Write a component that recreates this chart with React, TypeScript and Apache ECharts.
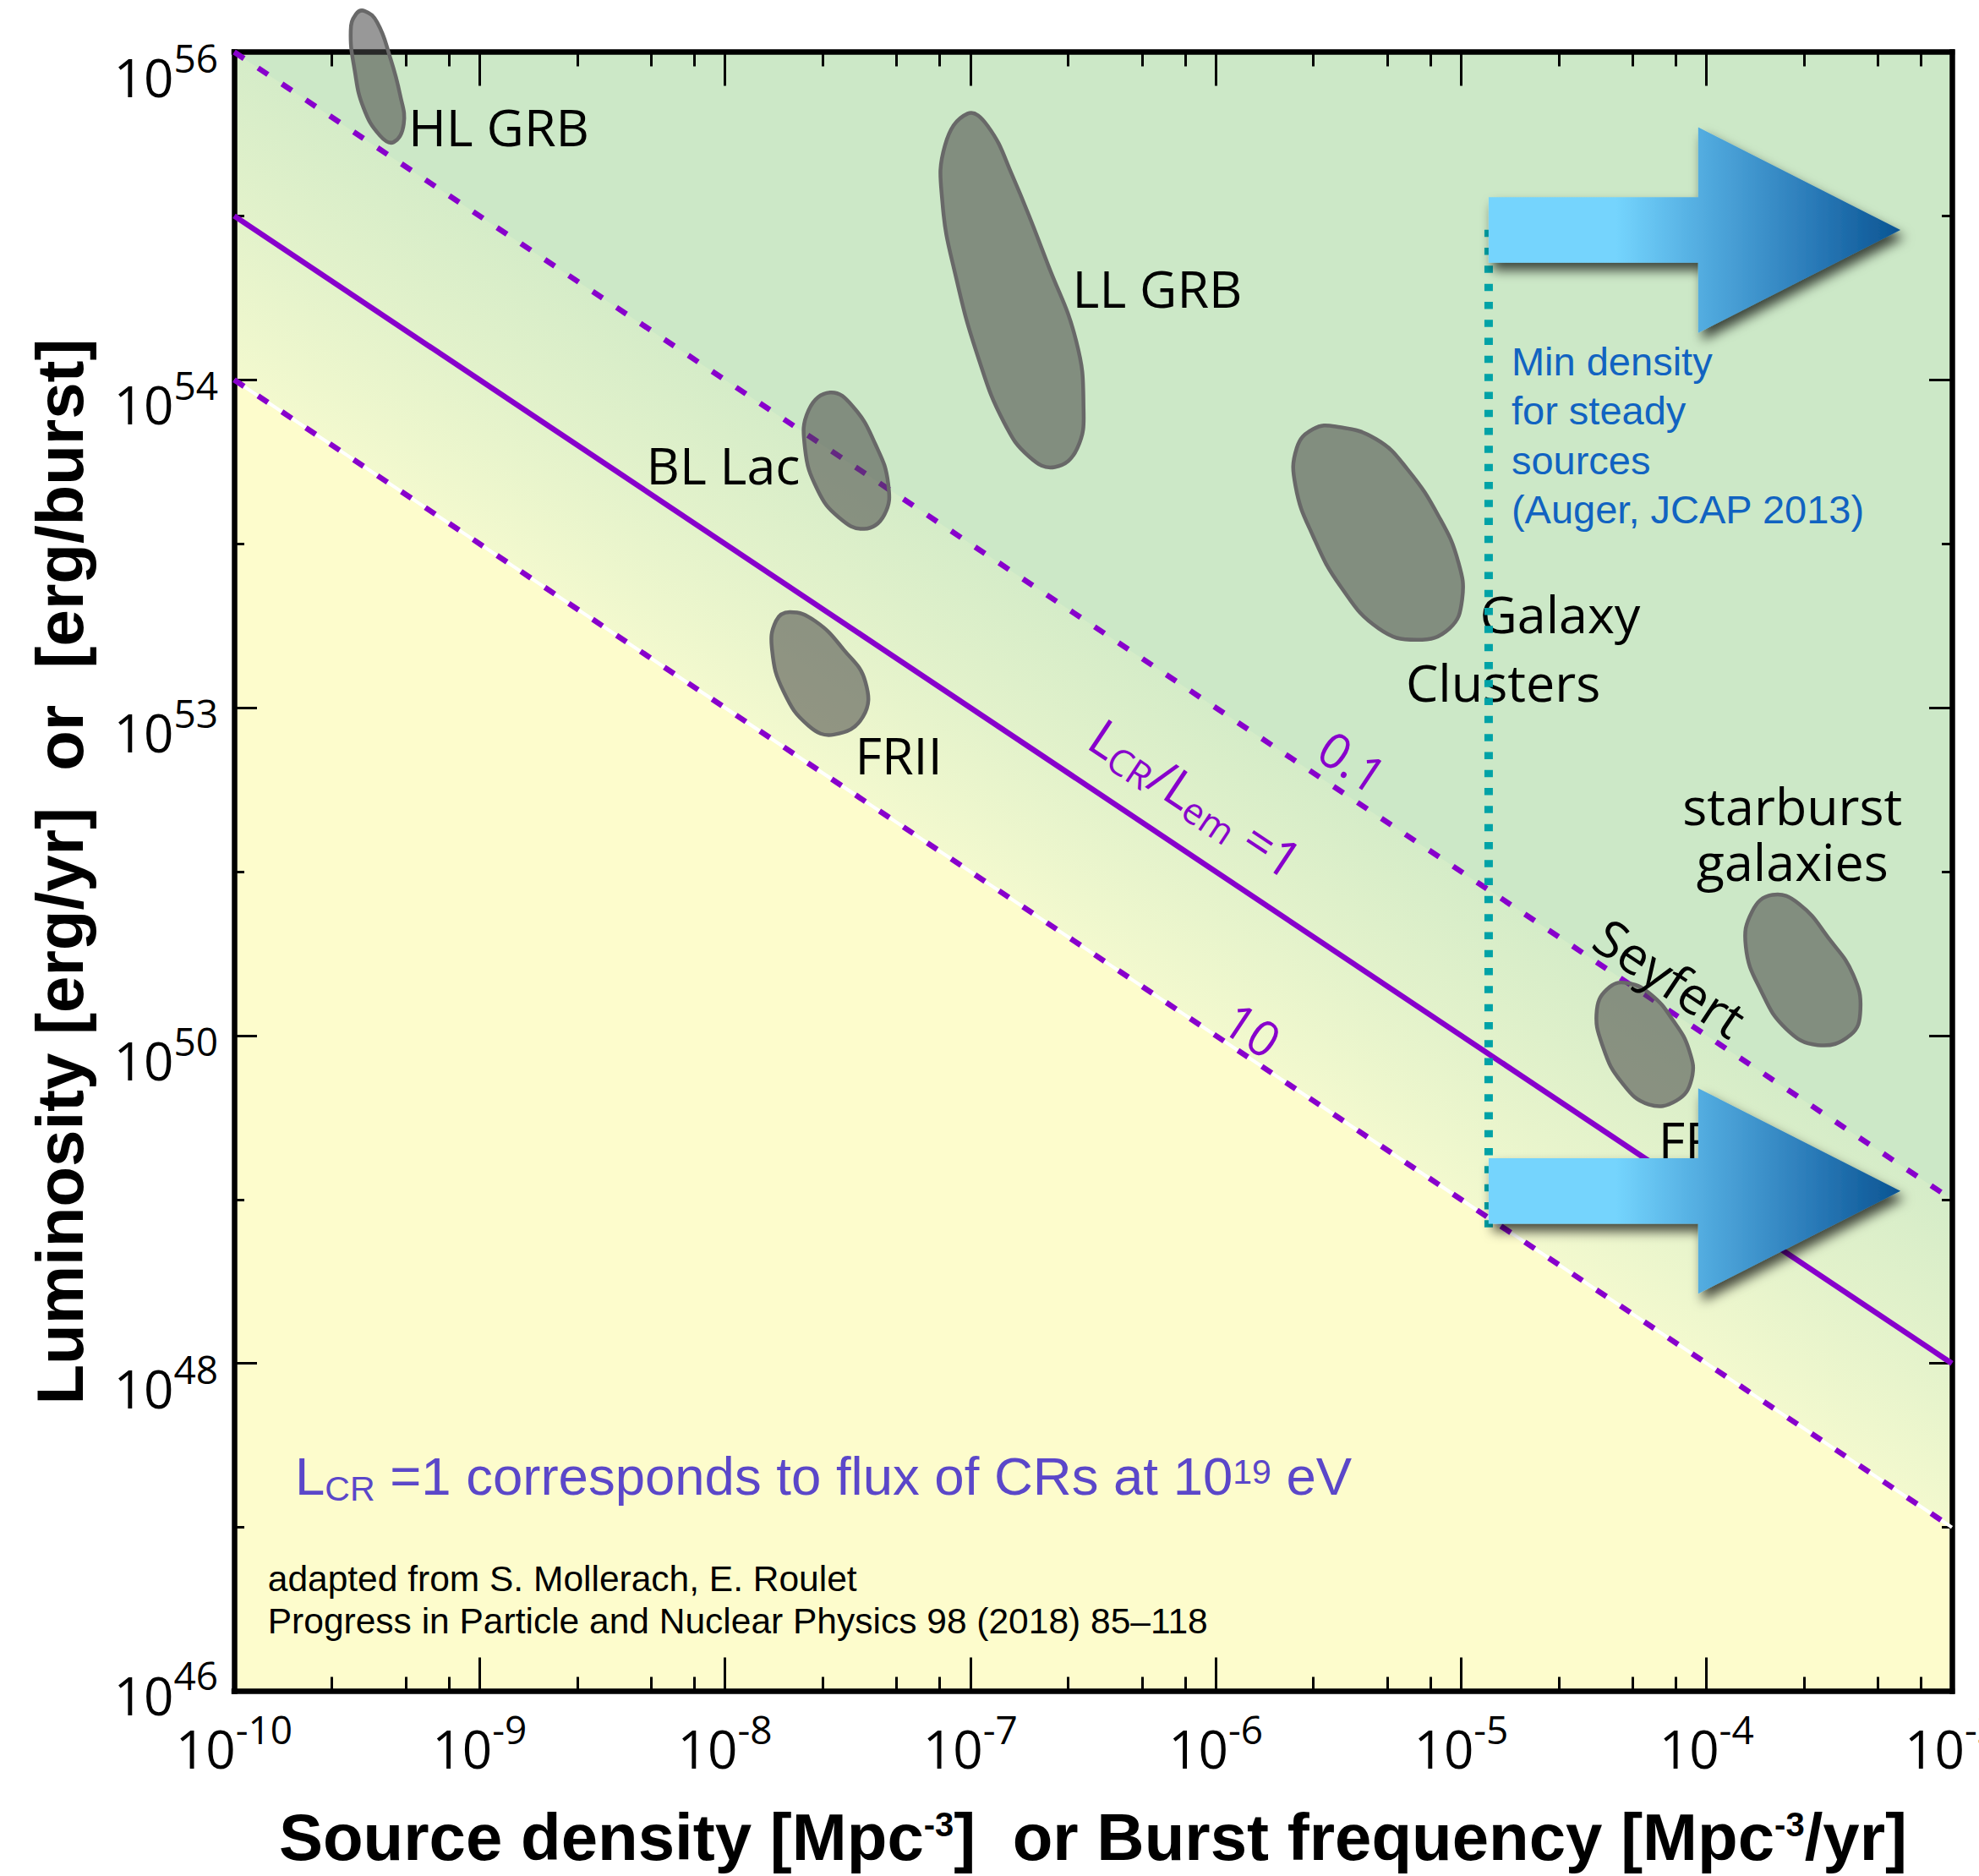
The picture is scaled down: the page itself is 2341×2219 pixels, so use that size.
import React, { useEffect, useRef } from 'react';
import * as echarts from 'echarts';

const CHART_W = 2341;
const CHART_H = 2219;

// ---------- axes ----------
const xDecades = [-10, -9, -8, -7, -6, -5, -4, -3];
const xMinorMantissas = [2.5, 5, 7.5];
const yTickValues = [46, 48, 50, 52, 54, 56];
const yTickExponents = ['46', '48', '50', '53', '54', '56'];

// ---------- L_CR / L_em lines (x = log10 density, y = axis units) ----------
const lineRatio1 = [[-10, 55], [-3, 48]];
const lineRatio01 = [[-10, 56], [-3, 49]];
const lineRatio10 = [[-10, 54], [-3, 47]];
const ratioLabels = ['0.1', '10', '{m|L}{sb|CR}{m|/L}{sb|em}{m| =1}'];
const ratioLabelPoints = [[-5.441, 51.674], [-5.85, 50.038], [-6.08, 51.45]];

// ---------- background regions ----------
const yellowRegion = [[-10, 54], [-3, 47], [-3, 46], [-10, 46]];
const bandRegion = [[-10, 56], [-3, 49], [-3, 47], [-10, 54]];

// ---------- Auger minimum density ----------
const minDensityLine = [[-4.888, 48.83], [-4.888, 54.92]];
const arrowCentersY = [54.914, 49.052];
const arrowXs = [-4.888, -4.034, -3.21]; // tail, head base, tip
const arrowHalfShaft = 0.2;
const arrowHalfHead = 0.627;
const minDensityText = 'Min density\nfor steady\nsources\n(Auger, JCAP 2013)';
const minDensityPoint = [-4.795, 53.662];

// ---------- source regions ----------
const blobOutlines = [
  // HL GRB
  [[-9.468, 56.25], [-9.417, 56.18], [-9.365, 55.97], [-9.324, 55.74], [-9.309, 55.56], [-9.35, 55.45], [-9.406, 55.49], [-9.473, 55.66], [-9.509, 55.89], [-9.525, 56.13], [-9.504, 56.23]],
  // LL GRB
  [[-7.011, 55.624], [-6.93, 55.55], [-6.83, 55.25], [-6.683, 54.7], [-6.569, 54.238], [-6.539, 53.853], [-6.564, 53.584], [-6.656, 53.468], [-6.759, 53.53], [-6.862, 53.738], [-6.965, 54.123], [-7.058, 54.623], [-7.114, 55.085], [-7.103, 55.432]],
  // BL Lac
  [[-7.572, 53.923], [-7.479, 53.838], [-7.387, 53.607], [-7.335, 53.368], [-7.351, 53.176], [-7.433, 53.091], [-7.536, 53.161], [-7.623, 53.33], [-7.674, 53.584], [-7.659, 53.815]],
  // FRII
  [[-7.736, 52.583], [-7.633, 52.529], [-7.515, 52.352], [-7.428, 52.159], [-7.438, 51.944], [-7.556, 51.836], [-7.659, 51.89], [-7.761, 52.098], [-7.808, 52.352], [-7.792, 52.529]],
  // Galaxy clusters
  [[-5.511, 53.715], [-5.346, 53.638], [-5.218, 53.453], [-5.089, 53.161], [-5.012, 52.891], [-4.996, 52.66], [-5.048, 52.483], [-5.181, 52.414], [-5.336, 52.483], [-5.49, 52.737], [-5.603, 53.045], [-5.675, 53.353], [-5.67, 53.584], [-5.603, 53.7]],
  // Seyfert
  [[-4.318, 50.319], [-4.226, 50.25], [-4.138, 50.096], [-4.071, 49.911], [-4.061, 49.734], [-4.123, 49.603], [-4.236, 49.58], [-4.344, 49.711], [-4.421, 49.926], [-4.447, 50.157], [-4.395, 50.296]],
  // starburst galaxies
  [[-3.732, 50.858], [-3.624, 50.804], [-3.496, 50.581], [-3.403, 50.373], [-3.373, 50.157], [-3.414, 50.003], [-3.547, 49.942], [-3.676, 50.042], [-3.778, 50.273], [-3.84, 50.542], [-3.814, 50.758]],
];

const sourceNames = ['HL GRB', 'LL GRB', 'BL Lac', 'FRII', 'Galaxy', 'Clusters', 'starburst\ngalaxies'];
const sourceNamePoints = [[-8.922, 55.544], [-6.238, 54.562], [-8.007, 53.484], [-7.292, 51.713], [-4.597, 52.575], [-4.829, 52.159], [-3.65, 51.236]];
const seyfertName = 'Seyfert';
const seyfertPoint = [-4.147, 50.355];
const friName = 'FRI';
const friPoint = [-4.196, 49.37];

const noteCR = '{a|L}{sb|CR}{a| =1 corresponds to flux of CRs at 10}{sp|19}{a| eV}';
const noteCRPoint = [-9.752, 47.314];
const noteRef = 'adapted from S. Mollerach, E. Roulet\nProgress in Particle and Nuclear Physics 98 (2018) 85\u2013118';
const noteRefPoint = [-9.863, 46.556];

// ---------- styles ----------
const PURPLE = '#8800cc';
const TEAL = '#00a2a6';
const LABEL_FONT = "'Open Sans', 'Noto Sans', sans-serif";
const HELV = "'Liberation Sans', Arial, sans-serif";

const xMinorTicks = xDecades.slice(0, -1).flatMap((d) => xMinorMantissas.map((m) => d + Math.log10(m)));

function lineAngle(api: any, line: number[][]) {
  const a = api.coord(line[0]);
  const b = api.coord(line[1]);
  return -Math.atan2(b[1] - a[1], b[0] - a[0]);
}

function buildOption(): any {
  const tickLine = { color: '#000', width: 3 };
  const frameLine = { show: true, onZero: false, lineStyle: { color: '#000', width: 6.5, cap: 'square' } };

  const xMajor = (position: string, withLabels: boolean) => ({
    type: 'value', position, min: -10, max: -3, interval: 1, z: 3,
    axisLine: frameLine,
    axisTick: { show: true, inside: true, length: 40, lineStyle: tickLine },
    splitLine: { show: false },
    axisLabel: withLabels
      ? {
          show: true, margin: 21.5,
          formatter: (v: number) => `{b|10}{s|${v}}`,
          rich: {
            b: { fontFamily: LABEL_FONT, fontSize: 62, color: '#000' },
            s: { fontFamily: LABEL_FONT, fontSize: 46, color: '#000', padding: [0, 0, 45, 0] },
          },
        }
      : { show: false },
  });
  const xMinor = (position: string) => ({
    type: 'value', position, min: -10, max: -3, z: 3,
    axisLine: { show: false, onZero: false },
    axisTick: { show: true, inside: true, length: 17, customValues: xMinorTicks, lineStyle: tickLine },
    axisLabel: { show: false },
    splitLine: { show: false },
  });
  const yAx = (position: string, withLabels: boolean) => ({
    type: 'value', position, min: 46, max: 56, interval: 2, z: 3,
    axisLine: frameLine,
    axisTick: { show: true, inside: true, length: 27, lineStyle: tickLine },
    minorTick: { show: true, splitNumber: 2, length: 12, lineStyle: tickLine },
    splitLine: { show: false },
    minorSplitLine: { show: false },
    axisLabel: withLabels
      ? {
          show: true, margin: 19,
          formatter: (v: number) => {
            const i = yTickValues.indexOf(v);
            const e = yTickExponents[i];
            return i === 0 ? `{b0|10}{s0|${e}}` : `{b|10}{s|${e}}`;
          },
          rich: {
            b: { fontFamily: LABEL_FONT, fontSize: 62, color: '#000', padding: [58, 0, 0, 0] },
            s: { fontFamily: LABEL_FONT, fontSize: 46, color: '#000', padding: [12, 0, 0, 0] },
            b0: { fontFamily: LABEL_FONT, fontSize: 62, color: '#000', padding: [9, 0, 0, 0] },
            s0: { fontFamily: LABEL_FONT, fontSize: 46, color: '#000', padding: [0, 0, 40, 0] },
          },
        }
      : { show: false },
  });

  const xAxis0: any = xMajor('bottom', true);
  xAxis0.name = '{t|Source density [Mpc}{sp|-3}{t|]  or Burst frequency [Mpc}{sp|-3}{t|/yr]}';
  xAxis0.nameLocation = 'middle';
  xAxis0.nameGap = 133;
  xAxis0.nameTextStyle = {
    rich: {
      t: { fontFamily: HELV, fontWeight: 'bold', fontSize: 78, color: '#000' },
      sp: { fontFamily: HELV, fontWeight: 'bold', fontSize: 40, color: '#000', padding: [0, 0, 30, 0] },
    },
  };
  const yAxis0: any = yAx('left', true);
  yAxis0.name = 'Luminosity [erg/yr]  or  [erg/burst]';
  yAxis0.nameLocation = 'middle';
  yAxis0.nameGap = 167;
  yAxis0.nameRotate = 90;
  yAxis0.nameTextStyle = { fontFamily: HELV, fontWeight: 'bold', fontSize: 78, color: '#000' };

  const regionPolys = [yellowRegion, bandRegion];

  const lineSeries = (data: number[][], color: string, width: number, type: any, z: number) => ({
    type: 'line', data, symbol: 'none', silent: true, z, animation: false,
    lineStyle: { color, width, type, cap: 'butt' },
  });

  return {
    animation: false,
    backgroundColor: '#ffffff',
    grid: {
      left: 277, right: 32, top: 61.5, bottom: 218.5,
      show: true, backgroundColor: '#cce8c7', borderWidth: 0,
      containLabel: false, outerBoundsMode: 'none',
    },
    xAxis: [xAxis0, xMinor('bottom'), xMajor('top', false), xMinor('top')],
    yAxis: [yAxis0, yAx('right', false)],
    series: [
      {
        type: 'custom', name: 'regions', z: 1, silent: true, clip: false,
        data: regionPolys.map((p) => p[0]), encode: { x: 0, y: 1 },
        renderItem: (params: any, api: any) => {
          const poly = regionPolys[params.dataIndex];
          const pts = poly.map((p) => api.coord(p));
          let fill: any = '#fdfccc';
          if (params.dataIndex === 1) {
            const a = api.coord(lineRatio01[0]);
            const b = api.coord(lineRatio01[1]);
            const c = api.coord(lineRatio10[0]);
            const dx = b[0] - a[0];
            const dy = b[1] - a[1];
            const len = Math.hypot(dx, dy);
            const nx = -dy / len;
            const ny = dx / len;
            const dist = (c[0] - a[0]) * nx + (c[1] - a[1]) * ny;
            fill = new echarts.graphic.LinearGradient(a[0], a[1], a[0] + nx * dist, a[1] + ny * dist, [
              { offset: 0, color: '#d5ecc8' },
              { offset: 0.5, color: '#e3f2cb' },
              { offset: 1, color: '#f3f9ce' },
            ], true);
          }
          return { type: 'polygon', shape: { points: pts }, style: { fill } };
        },
      },
      lineSeries(lineRatio10, '#ffffff', 4, 'solid', 4),
      lineSeries(lineRatio10, PURPLE, 6.5, [14, 20], 4),
      lineSeries(lineRatio01, PURPLE, 6.5, [14, 20], 4),
      lineSeries(lineRatio1, PURPLE, 6.5, 'solid', 4),
      {
        type: 'custom', name: 'sources', z: 5, silent: true, clip: false,
        data: blobOutlines.map((p) => p[0]), encode: { x: 0, y: 1 },
        renderItem: (params: any, api: any) => {
          const pts = blobOutlines[params.dataIndex].map((p) => api.coord(p));
          return {
            type: 'polygon',
            shape: { points: pts, smooth: 0.45 },
            style: { fill: 'rgba(72,72,72,0.56)', stroke: '#686868', lineWidth: 4.5 },
          };
        },
      },
      {
        type: 'custom', name: 'sourceNames', z: 6, silent: true, clip: false,
        data: sourceNamePoints, encode: { x: 0, y: 1 },
        renderItem: (params: any, api: any) => {
          const p = api.coord(sourceNamePoints[params.dataIndex]);
          return {
            type: 'text', x: p[0], y: p[1],
            style: {
              text: sourceNames[params.dataIndex], fontFamily: LABEL_FONT, fontSize: 61, lineHeight: 66,
              fill: '#000', align: 'center', verticalAlign: 'middle',
            },
          };
        },
      },
      {
        type: 'custom', name: 'rotatedNames', z: 6, silent: true, clip: false,
        data: [seyfertPoint, friPoint], encode: { x: 0, y: 1 },
        renderItem: (params: any, api: any) => {
          if (params.dataIndex === 0) {
            const p = api.coord(seyfertPoint);
            return {
              type: 'text', x: p[0], y: p[1], rotation: lineAngle(api, lineRatio01),
              style: { text: seyfertName, fontFamily: LABEL_FONT, fontSize: 61, fill: '#000', align: 'center', verticalAlign: 'middle' },
            };
          }
          const p = api.coord(friPoint);
          return {
            type: 'text', x: p[0], y: p[1],
            style: { text: friName, fontFamily: LABEL_FONT, fontSize: 61, fill: '#000', align: 'left', verticalAlign: 'middle' },
          };
        },
      },
      {
        type: 'custom', name: 'ratioLabels', z: 6, silent: true, clip: false,
        data: ratioLabelPoints, encode: { x: 0, y: 1 },
        renderItem: (params: any, api: any) => {
          const p = api.coord(ratioLabelPoints[params.dataIndex]);
          return {
            type: 'text', x: p[0], y: p[1], rotation: lineAngle(api, lineRatio1),
            style: {
              text: ratioLabels[params.dataIndex], fontFamily: LABEL_FONT, fontSize: 58, fill: PURPLE,
              align: 'center', verticalAlign: 'middle',
              rich: {
                m: { fontFamily: LABEL_FONT, fontSize: 60, fill: PURPLE },
                sb: { fontFamily: LABEL_FONT, fontSize: 43, fill: PURPLE, padding: [26, 0, 0, 0] },
              },
            },
          };
        },
      },
      {
        type: 'custom', name: 'notes', z: 6, silent: true, clip: false,
        data: [noteCRPoint, noteRefPoint], encode: { x: 0, y: 1 },
        renderItem: (params: any, api: any) => {
          if (params.dataIndex === 0) {
            const p = api.coord(noteCRPoint);
            return {
              type: 'text', x: p[0], y: p[1],
              style: {
                text: noteCR, align: 'left', verticalAlign: 'middle',
                rich: {
                  a: { fontFamily: HELV, fontSize: 63.5, fill: '#5b47c9' },
                  sb: { fontFamily: HELV, fontSize: 41, fill: '#5b47c9', padding: [31, 0, 0, 0] },
                  sp: { fontFamily: HELV, fontSize: 41, fill: '#5b47c9', padding: [0, 0, 9, 0] },
                },
              },
            };
          }
          const p = api.coord(noteRefPoint);
          return {
            type: 'text', x: p[0], y: p[1],
            style: { text: noteRef, fontFamily: HELV, fontSize: 42.5, lineHeight: 50.5, fill: '#000', align: 'left', verticalAlign: 'middle' },
          };
        },
      },
      {
        ...lineSeries(minDensityLine, TEAL, 10, [8.5, 12.8], 6.5),
      },
      {
        type: 'custom', name: 'arrows', z: 7, silent: true, clip: false,
        data: arrowCentersY.map((y) => [arrowXs[0], y]), encode: { x: 0, y: 1 },
        renderItem: (params: any, api: any) => {
          const yc = arrowCentersY[params.dataIndex];
          const [x0, x1, x2] = arrowXs;
          const poly = [
            [x0, yc + arrowHalfShaft], [x1, yc + arrowHalfShaft], [x1, yc + arrowHalfHead], [x2, yc],
            [x1, yc - arrowHalfHead], [x1, yc - arrowHalfShaft], [x0, yc - arrowHalfShaft],
          ].map((p) => api.coord(p));
          return {
            type: 'polygon', shape: { points: poly },
            style: {
              fill: new echarts.graphic.LinearGradient(0, 0, 1, 0, [
                { offset: 0, color: '#74d4fd' },
                { offset: 0.31, color: '#74d4fd' },
                { offset: 0.5, color: '#55afe2' },
                { offset: 0.8, color: '#2878b6' },
                { offset: 1, color: '#0a5492' },
              ]),
              shadowBlur: 14, shadowOffsetX: 5, shadowOffsetY: 9, shadowColor: 'rgba(0,0,0,0.7)',
            },
          };
        },
      },
      {
        type: 'custom', name: 'minDensityText', z: 7, silent: true, clip: false,
        data: [minDensityPoint], encode: { x: 0, y: 1 },
        renderItem: (params: any, api: any) => {
          const p = api.coord(minDensityPoint);
          return {
            type: 'text', x: p[0], y: p[1],
            style: { text: minDensityText, fontFamily: HELV, fontSize: 47, lineHeight: 58.5, fill: '#1163c1', align: 'left', verticalAlign: 'middle' },
          };
        },
      },
    ],
  };
}

export default function App() {
  const ref = useRef<HTMLDivElement>(null);
  useEffect(() => {
    if (!ref.current) return;
    const chart = echarts.init(ref.current, null, { renderer: 'svg', width: CHART_W, height: CHART_H });
    chart.setOption(buildOption());
    return () => chart.dispose();
  }, []);
  return (
    <div
      ref={ref}
      style={{ position: 'absolute', left: 0, top: 0, width: CHART_W, height: CHART_H, background: '#fff' }}
    />
  );
}
